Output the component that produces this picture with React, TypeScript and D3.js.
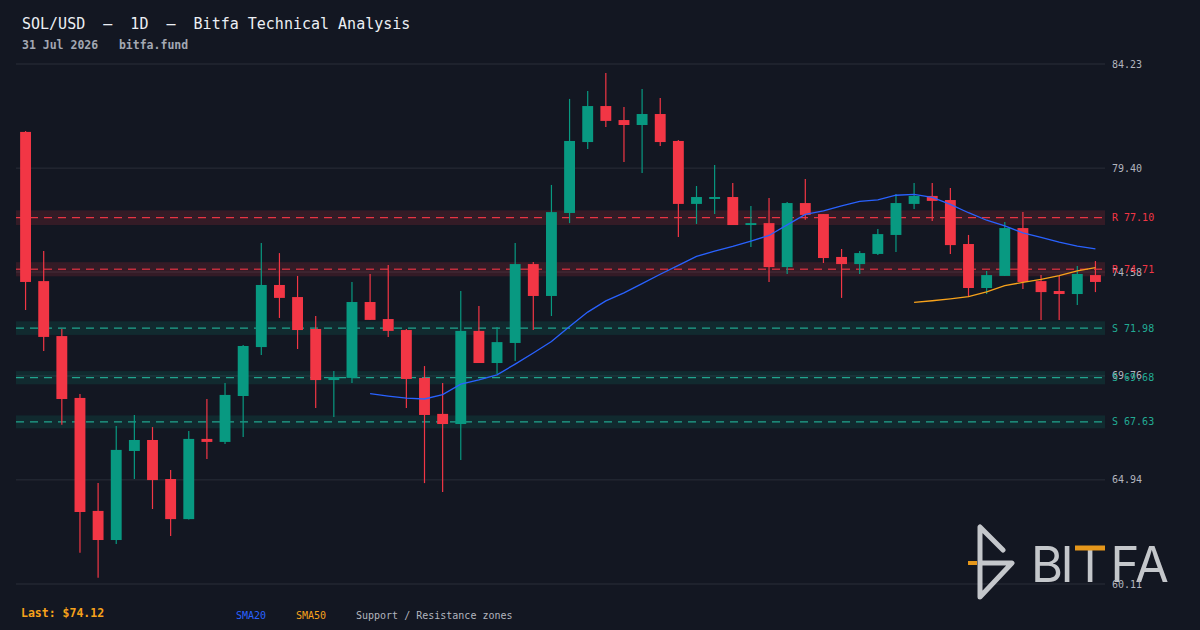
// SOL/USD daily candles with SMA overlays and support / resistance zones
import React, { useEffect } from 'react';
import * as d3 from 'd3';

const OPEN = [
  81.08, 74.16, 71.61, 68.74, 63.50, 62.15, 66.28, 66.79, 64.98, 63.12,
  66.84, 66.70, 68.83, 71.10, 73.98, 73.42, 71.94, 69.57, 69.67, 73.19,
  72.40, 71.89, 69.67, 68.00, 67.53, 71.85, 70.36, 71.29, 74.95, 73.47,
  77.32, 80.61, 82.28, 81.63, 81.40, 81.91, 80.66, 77.74, 77.97, 78.06,
  76.76, 76.85, 74.81, 77.78, 77.27, 75.28, 74.95, 75.42, 76.30, 77.74,
  78.11, 77.92, 75.88, 73.84, 74.40, 76.62, 74.16, 73.70, 73.56, 74.44,
];
const HIGH = [
  81.12, 75.56, 71.94, 68.92, 64.79, 67.44, 67.95, 67.39, 65.40, 67.21,
  68.69, 69.43, 71.20, 75.93, 75.46, 74.40, 72.54, 69.99, 74.12, 74.49,
  74.91, 71.94, 70.22, 69.43, 73.70, 73.00, 72.03, 75.93, 75.05, 78.62,
  82.61, 82.98, 83.81, 82.24, 83.07, 82.65, 80.70, 78.57, 79.55, 78.71,
  77.64, 78.01, 77.83, 78.90, 77.27, 75.65, 75.56, 76.58, 78.20, 78.71,
  78.71, 78.48, 76.30, 74.63, 76.90, 77.36, 74.44, 74.40, 74.86, 75.09,
];
const LOW = [
  72.82, 70.92, 67.50, 61.56, 60.40, 61.97, 64.98, 63.59, 62.34, 63.10,
  65.91, 66.60, 66.93, 70.73, 72.45, 71.01, 68.27, 67.86, 69.43, 72.36,
  71.57, 68.27, 64.79, 64.38, 65.86, 70.36, 69.85, 70.45, 71.89, 72.54,
  76.85, 80.29, 81.31, 79.68, 79.17, 80.43, 76.21, 76.81, 77.27, 76.76,
  75.74, 74.12, 74.49, 77.00, 75.00, 73.38, 74.49, 75.37, 75.51, 77.50,
  76.95, 75.42, 73.42, 73.56, 74.40, 73.79, 72.36, 72.36, 73.05, 73.65,
];
const CLOSE = [
  74.12, 71.57, 68.69, 63.45, 62.15, 66.33, 66.79, 64.93, 63.12, 66.84,
  66.70, 68.88, 71.15, 73.98, 73.38, 71.89, 69.57, 69.71, 73.19, 72.36,
  71.85, 69.62, 67.95, 67.53, 71.85, 70.36, 71.33, 74.95, 73.47, 77.36,
  80.66, 82.28, 81.59, 81.40, 81.91, 80.61, 77.74, 78.06, 78.06, 76.76,
  76.85, 74.81, 77.78, 77.23, 75.23, 74.95, 75.46, 76.34, 77.78, 78.11,
  77.88, 75.83, 73.84, 74.44, 76.62, 74.12, 73.65, 73.56, 74.49, 74.12,
];

const Y_TICKS = [60.11, 64.94, 69.76, 74.58, 79.40, 84.23];
const ZONE_KIND = ['R', 'R', 'S', 'S', 'S'];
const ZONE_LEVEL = [77.10, 74.71, 71.98, 69.68, 67.63];

const W = 1200;
const H = 630;
const BG = '#131722';
const UP = '#089981';
const DOWN = '#f23645';
const TEAL = '#22ab94';
const ORANGE = '#f7a21b';
const MONO = '"DejaVu Sans Mono", monospace';
const PRE = { whiteSpace: 'pre' as const };

function sma(values: number[], n: number) {
  const out: [number, number][] = [];
  for (let i = n - 1; i < values.length; i++) {
    out.push([i, d3.mean(values.slice(i - n + 1, i + 1)) as number]);
  }
  return out;
}

export default function App() {
  useEffect(() => {
    document.body.style.margin = '0';
    document.body.style.background = BG;
  }, []);

  const left = 16;
  const right = 1105;
  const top = 64;
  const bottom = 584;

  const idx = d3.range(CLOSE.length);
  const x = d3.scaleBand<number>().domain(idx).range([left + 0.5, right - 0.5]).padding(0);
  const y = d3.scaleLinear().domain([Y_TICKS[0], Y_TICKS[Y_TICKS.length - 1]]).range([bottom, top]);
  const bw = x.bandwidth() * 0.6;
  const cx = (i: number) => (x(i) as number) + x.bandwidth() / 2;

  const line = d3.line<[number, number]>()
    .x(d => cx(d[0]))
    .y(d => y(d[1]));

  return (
    <svg width={W} height={H} style={{ display: 'block' }} fontFamily={MONO}>
      <rect width={W} height={H} fill={BG} />

      {/* header */}
      <text x={22} y={29} fontSize={15} fill="#eceff4" style={PRE} xmlSpace="preserve">
        {'SOL/USD  –  1D  –  Bitfa Technical Analysis'}
      </text>
      <text x={22} y={49} fontSize={11.5} fontWeight="bold" fill="#a3a8b3" style={PRE} xmlSpace="preserve">
        {'31 Jul 2026   bitfa.fund'}
      </text>

      {/* grid */}
      {Y_TICKS.map(t => (
        <line key={t} x1={left} x2={right} y1={y(t)} y2={y(t)} stroke="#2a2e39" strokeWidth={1} />
      ))}

      {/* zones */}
      {ZONE_LEVEL.map((lv, k) => {
        const col = ZONE_KIND[k] === 'R' ? DOWN : TEAL;
        const half = lv * 0.0044;
        return (
          <g key={lv}>
            <rect x={left} width={right - left} y={y(lv + half)} height={y(lv - half) - y(lv + half)}
              fill={ZONE_KIND[k] === 'R' ? DOWN : UP} fillOpacity={0.15} />
            <line x1={left} x2={right} y1={y(lv)} y2={y(lv)} stroke={col}
              strokeWidth={1.3} strokeDasharray="8 6" strokeOpacity={k === 1 ? 0.75 : 0.95} />
          </g>
        );
      })}

      {/* watermark logo */}
      <g opacity={0.92}>
        <path d="M1003,550 L980,527 L980,597 L1012,563 L980,563" fill="none" stroke="#d4d6da"
          strokeWidth={5} strokeLinecap="round" strokeLinejoin="round" />
        <line x1={968} x2={977} y1={563} y2={563} stroke={ORANGE} strokeWidth={4} />
        <g fontFamily="Inter, 'Open Sans', sans-serif" fontSize={49} fontWeight={400} fill="#d4d6da" textAnchor="middle">
          <text x={1047} y={582}>B</text>
          <text x={1067} y={582}>I</text>
          <text x={1090} y={582}>T</text>
          <text x={1125} y={582}>F</text>
          <text x={1152} y={582}>A</text>
        </g>
        <rect x={1075} y={545.5} width={30} height={5} fill={ORANGE} />
      </g>

      {/* candles */}
      {idx.map(i => {
        const o = OPEN[i];
        const c = CLOSE[i];
        const col = c >= o ? UP : DOWN;
        const yt = y(Math.max(o, c));
        const yb = y(Math.min(o, c));
        return (
          <g key={i}>
            <line x1={cx(i)} x2={cx(i)} y1={y(HIGH[i])} y2={y(LOW[i])} stroke={col} strokeWidth={1.2} />
            <rect x={cx(i) - bw / 2} width={bw} y={yt} height={Math.max(1.5, yb - yt)} fill={col} />
          </g>
        );
      })}

      {/* moving averages */}
      <path d={line(sma(CLOSE, 20)) || ''} fill="none" stroke="#2962ff" strokeWidth={1.3} />
      <path d={line(sma(CLOSE, 50)) || ''} fill="none" stroke={ORANGE} strokeWidth={1.3} />

      {/* axis labels */}
      {Y_TICKS.map(t => (
        <text key={t} x={1112} y={y(t)} dy="0.35em" fontSize={10} fill="#b2b5be">
          {t.toFixed(2)}
        </text>
      ))}
      {ZONE_LEVEL.map((lv, k) => (
        <text key={lv} x={1112} y={y(lv)} dy="0.35em" fontSize={10}
          fill={ZONE_KIND[k] === 'R' ? DOWN : TEAL}>
          {ZONE_KIND[k]} {lv.toFixed(2)}
        </text>
      ))}

      {/* legend */}
      <text x={21} y={617} fontSize={11.5} fontWeight="bold" fill={ORANGE}>
        Last: ${CLOSE[CLOSE.length - 1].toFixed(2)}
      </text>
      <text x={236} y={619} fontSize={10} fill="#2962ff">SMA20</text>
      <text x={296} y={619} fontSize={10} fill={ORANGE}>SMA50</text>
      <text x={356} y={619} fontSize={10} fill="#b2b5be">Support / Resistance zones</text>
    </svg>
  );
}
